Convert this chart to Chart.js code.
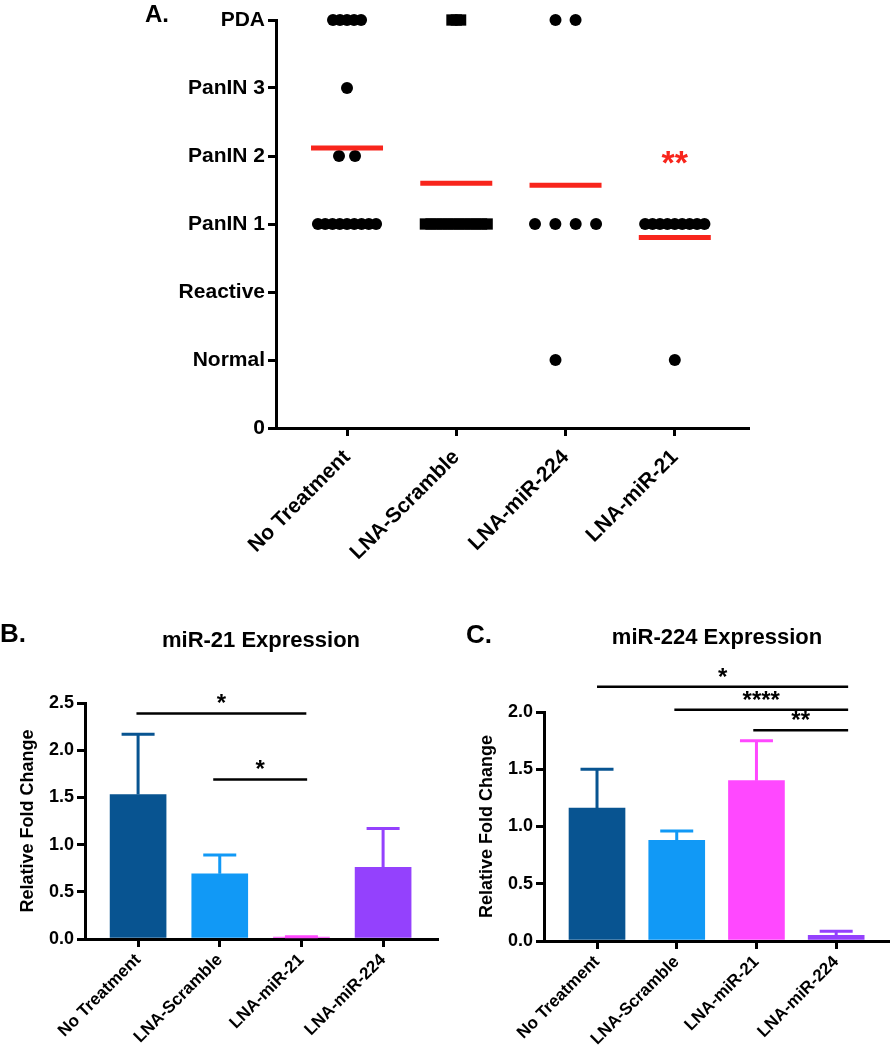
<!DOCTYPE html>
<html>
<head>
<meta charset="utf-8">
<script src="https://cdn.jsdelivr.net/npm/chart.js@4"></script>
<style>
  body { margin: 0; background: #fff; }
  #page { position: relative; width: 890px; height: 1050px; overflow: hidden; }
  canvas { position: absolute; }
  .txt { position: absolute; font-family: "Liberation Sans", Arial, Helvetica, sans-serif; font-weight: bold; color: #000; white-space: nowrap; }
</style>
</head>
<body>
<div id="page">
  <canvas id="chartA" width="890" height="590" style="left:0;top:0"></canvas>
  <canvas id="chartB" width="440" height="450" style="left:0;top:600px"></canvas>
  <canvas id="chartC" width="450" height="450" style="left:440px;top:600px"></canvas>

  <div class="txt" style="left:145px;top:2px;font-size:24px;line-height:24px">A.</div>
  <div class="txt" style="left:0;top:620px;font-size:26px;line-height:26px">B.</div>
  <div class="txt" style="left:466px;top:621px;font-size:26px;line-height:26px">C.</div>
  <div class="txt" style="left:111px;width:300px;text-align:center;top:629px;font-size:22px;line-height:22px">miR-21 Expression</div>
  <div class="txt" style="left:567px;width:300px;text-align:center;top:626px;font-size:22px;line-height:22px">miR-224 Expression</div>
</div>

<script>
// ---- panel A data: histology grade of each mouse ----
const groupsA = ['No Treatment', 'LNA-Scramble', 'LNA-miR-224', 'LNA-miR-21'];
const gradeLabels = ['0', 'Normal', 'Reactive', 'PanIN 1', 'PanIN 2', 'PanIN 3', 'PDA'];
const scoresNoTreatment = [6, 6, 6, 6, 6, 5, 4, 4, 3, 3, 3, 3, 3, 3, 3, 3, 3];
const scoresScramble = [6, 6, 6, 3, 3, 3, 3, 3, 3, 3, 3, 3, 3, 3, 3];
const scoresMiR224 = [6, 6, 3, 3, 3, 3, 1];
const scoresMiR21 = [3, 3, 3, 3, 3, 3, 3, 3, 3, 1];
const starA = { group: 4, y: 4, text: '**' };

// ---- panel B data: miR-21 expression ----
const groupsB = ['No Treatment', 'LNA-Scramble', 'LNA-miR-21', 'LNA-miR-224'];
const valuesB = [1.53, 0.69, 0.02, 0.76];
const errorsB = [0.64, 0.20, 0.005, 0.41];
const sigB = [
    { from: 0.98, to: 3.06, y: 2.39, text: '*' },
    { from: 1.92, to: 3.07, y: 1.69, text: '*' }
];

// ---- panel C data: miR-224 expression ----
const groupsC = ['No Treatment', 'LNA-Scramble', 'LNA-miR-21', 'LNA-miR-224'];
const valuesC = [1.16, 0.88, 1.40, 0.05];
const errorsC = [0.34, 0.08, 0.35, 0.035];
const sigC = [
    { from: 1, to: 4.15, y: 2.22, text: '*' },
    { from: 1.97, to: 4.15, y: 2.02, text: '****' },
    { from: 2.96, to: 4.15, y: 1.84, text: '**' }
];

const barColors = ['#085491', '#1199f6', '#ff48ff', '#9441fd'];

const FONT = '"Liberation Sans", Arial, Helvetica, sans-serif';
Chart.defaults.font.family = FONT;
Chart.defaults.color = '#000';

// spacing of dots within one row of the scatter (pixels), [gap, shift] per grade
const pxPerUnitA = 109;
const swarmLayout = [
    { 6: [7, 0], 5: [0, 0], 4: [16, 0], 3: [7.25, 0] },
    { 6: [4.3, 0], 3: [5.6, 0] },
    { 6: [20, 0], 3: [20.3, 0], 1: [0, -10] },
    { 3: [7.4, 0], 1: [0, 0] }
];

function swarm(scores, layout, groupIndex) {
    const counts = {};
    scores.forEach(s => counts[s] = (counts[s] || 0) + 1);
    const seen = {};
    return scores.map(s => {
        seen[s] = seen[s] === undefined ? 0 : seen[s] + 1;
        const [gap, shift] = layout[s] || [0, 0];
        const off = (seen[s] - (counts[s] - 1) / 2) * gap + shift;
        return { x: groupIndex + 1 + off / pxPerUnitA, y: s };
    });
}

function mean(arr) {
    return arr.reduce((a, b) => a + b, 0) / arr.length;
}

const allScores = [scoresNoTreatment, scoresScramble, scoresMiR224, scoresMiR21];

const roundDots = [0, 2, 3].flatMap(i => swarm(allScores[i], swarmLayout[i], i));
const squareDots = swarm(scoresScramble, swarmLayout[1], 1);
const meanPoints = allScores.map((s, i) => ({ x: i + 1, y: mean(s) }));

// red ** above miR-21 group
const starPlugin = {
    id: 'starA',
    afterDatasetsDraw(chart) {
        const ctx = chart.ctx;
        const x = chart.scales.x.getPixelForValue(starA.group);
        const y = chart.scales.y.getPixelForValue(starA.y);
        ctx.save();
        ctx.fillStyle = '#f8251c';
        ctx.font = 'bold 34px ' + FONT;
        ctx.textAlign = 'center';
        ctx.textBaseline = 'alphabetic';
        ctx.fillText(starA.text, x, y + 18);
        ctx.restore();
    }
};

const axisGrid = { drawOnChartArea: false, color: '#000', lineWidth: 3, tickLength: 8 };
const axisBorder = { color: '#000', width: 3 };

new Chart(document.getElementById('chartA'), {
    type: 'scatter',
    data: {
        datasets: [
            {
                data: meanPoints,
                pointStyle: 'line',
                pointRadius: 36,
                pointBorderWidth: 5,
                pointBorderColor: '#f8251c',
                pointBackgroundColor: '#f8251c',
                clip: false
            },
            {
                data: roundDots,
                pointStyle: 'circle',
                pointRadius: 6,
                pointBorderWidth: 0,
                pointBackgroundColor: '#000',
                clip: false
            },
            {
                data: squareDots,
                pointStyle: 'rect',
                pointRadius: 8,
                pointBorderWidth: 0,
                pointBackgroundColor: '#000',
                clip: false
            }
        ]
    },
    options: {
        responsive: false,
        animation: false,
        layout: { autoPadding: false, padding: { left: 0, right: 142, top: 20, bottom: 0 } },
        plugins: { legend: { display: false }, tooltip: { enabled: false } },
        scales: {
            x: {
                type: 'linear',
                min: 0.35,
                max: 4.67,
                afterBuildTicks: s => { s.ticks = [1, 2, 3, 4].map(v => ({ value: v })); },
                afterFit: s => { s.height = 162; },
                grid: axisGrid,
                border: axisBorder,
                ticks: {
                    callback: v => groupsA[v - 1],
                    autoSkip: false,
                    minRotation: 45,
                    maxRotation: 45,
                    padding: 9,
                    color: '#000',
                    font: { size: 21, weight: 'bold' }
                }
            },
            y: {
                min: 0,
                max: 6,
                afterBuildTicks: s => { s.ticks = gradeLabels.map((_, i) => ({ value: i })); },
                afterFit: s => { s.width = 276; },
                grid: axisGrid,
                border: axisBorder,
                ticks: {
                    callback: v => gradeLabels[v],
                    color: '#000',
                    font: { size: 21, weight: 'bold' }
                }
            }
        }
    },
    plugins: [starPlugin]
});

// error bars and significance lines for bar panels
const barExtrasPlugin = {
    id: 'barExtras',
    afterDraw(chart) {
        const o = chart.options.plugins.barExtras;
        const ctx = chart.ctx;
        const xs = chart.scales.x, ys = chart.scales.y;
        ctx.save();
        ctx.lineWidth = 3;
        o.values.forEach((v, i) => {
            const x = xs.getPixelForValue(i + 1);
            const y0 = ys.getPixelForValue(v);
            const y1 = ys.getPixelForValue(v + o.errors[i]);
            ctx.strokeStyle = o.colors[i];
            ctx.beginPath();
            ctx.moveTo(x, y0);
            ctx.lineTo(x, y1);
            ctx.moveTo(x - 16.5, y1);
            ctx.lineTo(x + 16.5, y1);
            ctx.stroke();
        });
        ctx.strokeStyle = '#000';
        ctx.fillStyle = '#000';
        ctx.lineWidth = 2.5;
        ctx.font = 'bold 24px ' + FONT;
        ctx.textAlign = 'center';
        ctx.textBaseline = 'alphabetic';
        o.sig.forEach(s => {
            const x0 = xs.getPixelForValue(s.from);
            const x1 = xs.getPixelForValue(s.to);
            const y = ys.getPixelForValue(s.y);
            ctx.beginPath();
            ctx.moveTo(x0, y);
            ctx.lineTo(x1, y);
            ctx.stroke();
            ctx.fillText(s.text, (x0 + x1) / 2, y - 2);
        });
        ctx.restore();
    }
};

function barChart(id, cfg) {
    return new Chart(document.getElementById(id), {
        type: 'bar',
        data: {
            datasets: [{
                data: cfg.values.map((v, i) => ({ x: i + 1, y: v })),
                backgroundColor: cfg.colors,
                barThickness: 56,
                borderWidth: 0
            }]
        },
        options: {
            responsive: false,
            animation: false,
            layout: { autoPadding: false, padding: { left: 0, right: cfg.rightPad, top: cfg.topPad, bottom: 0 } },
            plugins: {
                legend: { display: false },
                tooltip: { enabled: false },
                barExtras: { values: cfg.values, errors: cfg.errors, colors: cfg.colors, sig: cfg.sig }
            },
            scales: {
                x: {
                    type: 'linear',
                    offset: false,
                    min: cfg.xMin,
                    max: cfg.xMax,
                    afterBuildTicks: s => { s.ticks = [1, 2, 3, 4].map(v => ({ value: v })); },
                    afterFit: s => { s.height = cfg.xHeight; },
                    grid: Object.assign({ offset: false }, axisGrid),
                    border: axisBorder,
                    ticks: {
                        callback: v => cfg.labels[v - 1],
                        autoSkip: false,
                        minRotation: 45,
                        maxRotation: 45,
                        color: '#000',
                        font: { size: 17, weight: 'bold' }
                    }
                },
                y: {
                    min: 0,
                    max: cfg.yMax,
                    afterFit: s => { s.width = cfg.yWidth; },
                    grid: axisGrid,
                    border: axisBorder,
                    ticks: {
                        stepSize: 0.5,
                        callback: v => v.toFixed(1),
                        color: '#000',
                        font: { size: 18, weight: 'bold' }
                    },
                    title: {
                        display: true,
                        text: 'Relative Fold Change',
                        color: '#000',
                        font: { size: 18, weight: 'bold' },
                        padding: { top: cfg.titlePad, bottom: 0 }
                    }
                }
            }
        },
        plugins: [barExtrasPlugin]
    });
}

barChart('chartB', {
    values: valuesB, errors: errorsB, colors: barColors, labels: groupsB, sig: sigB,
    yMax: 2.5, xMin: 0.35, xMax: 4.66, yWidth: 85, rightPad: 3, topPad: 103, xHeight: 111, titlePad: 17
});

barChart('chartC', {
    values: valuesC, errors: errorsC, colors: barColors, labels: groupsC, sig: sigC,
    yMax: 2.0, xMin: 0.335, xMax: 4.65, yWidth: 104, rightPad: 2, topPad: 112, xHeight: 109, titlePad: 36
});
</script>
</body>
</html>
